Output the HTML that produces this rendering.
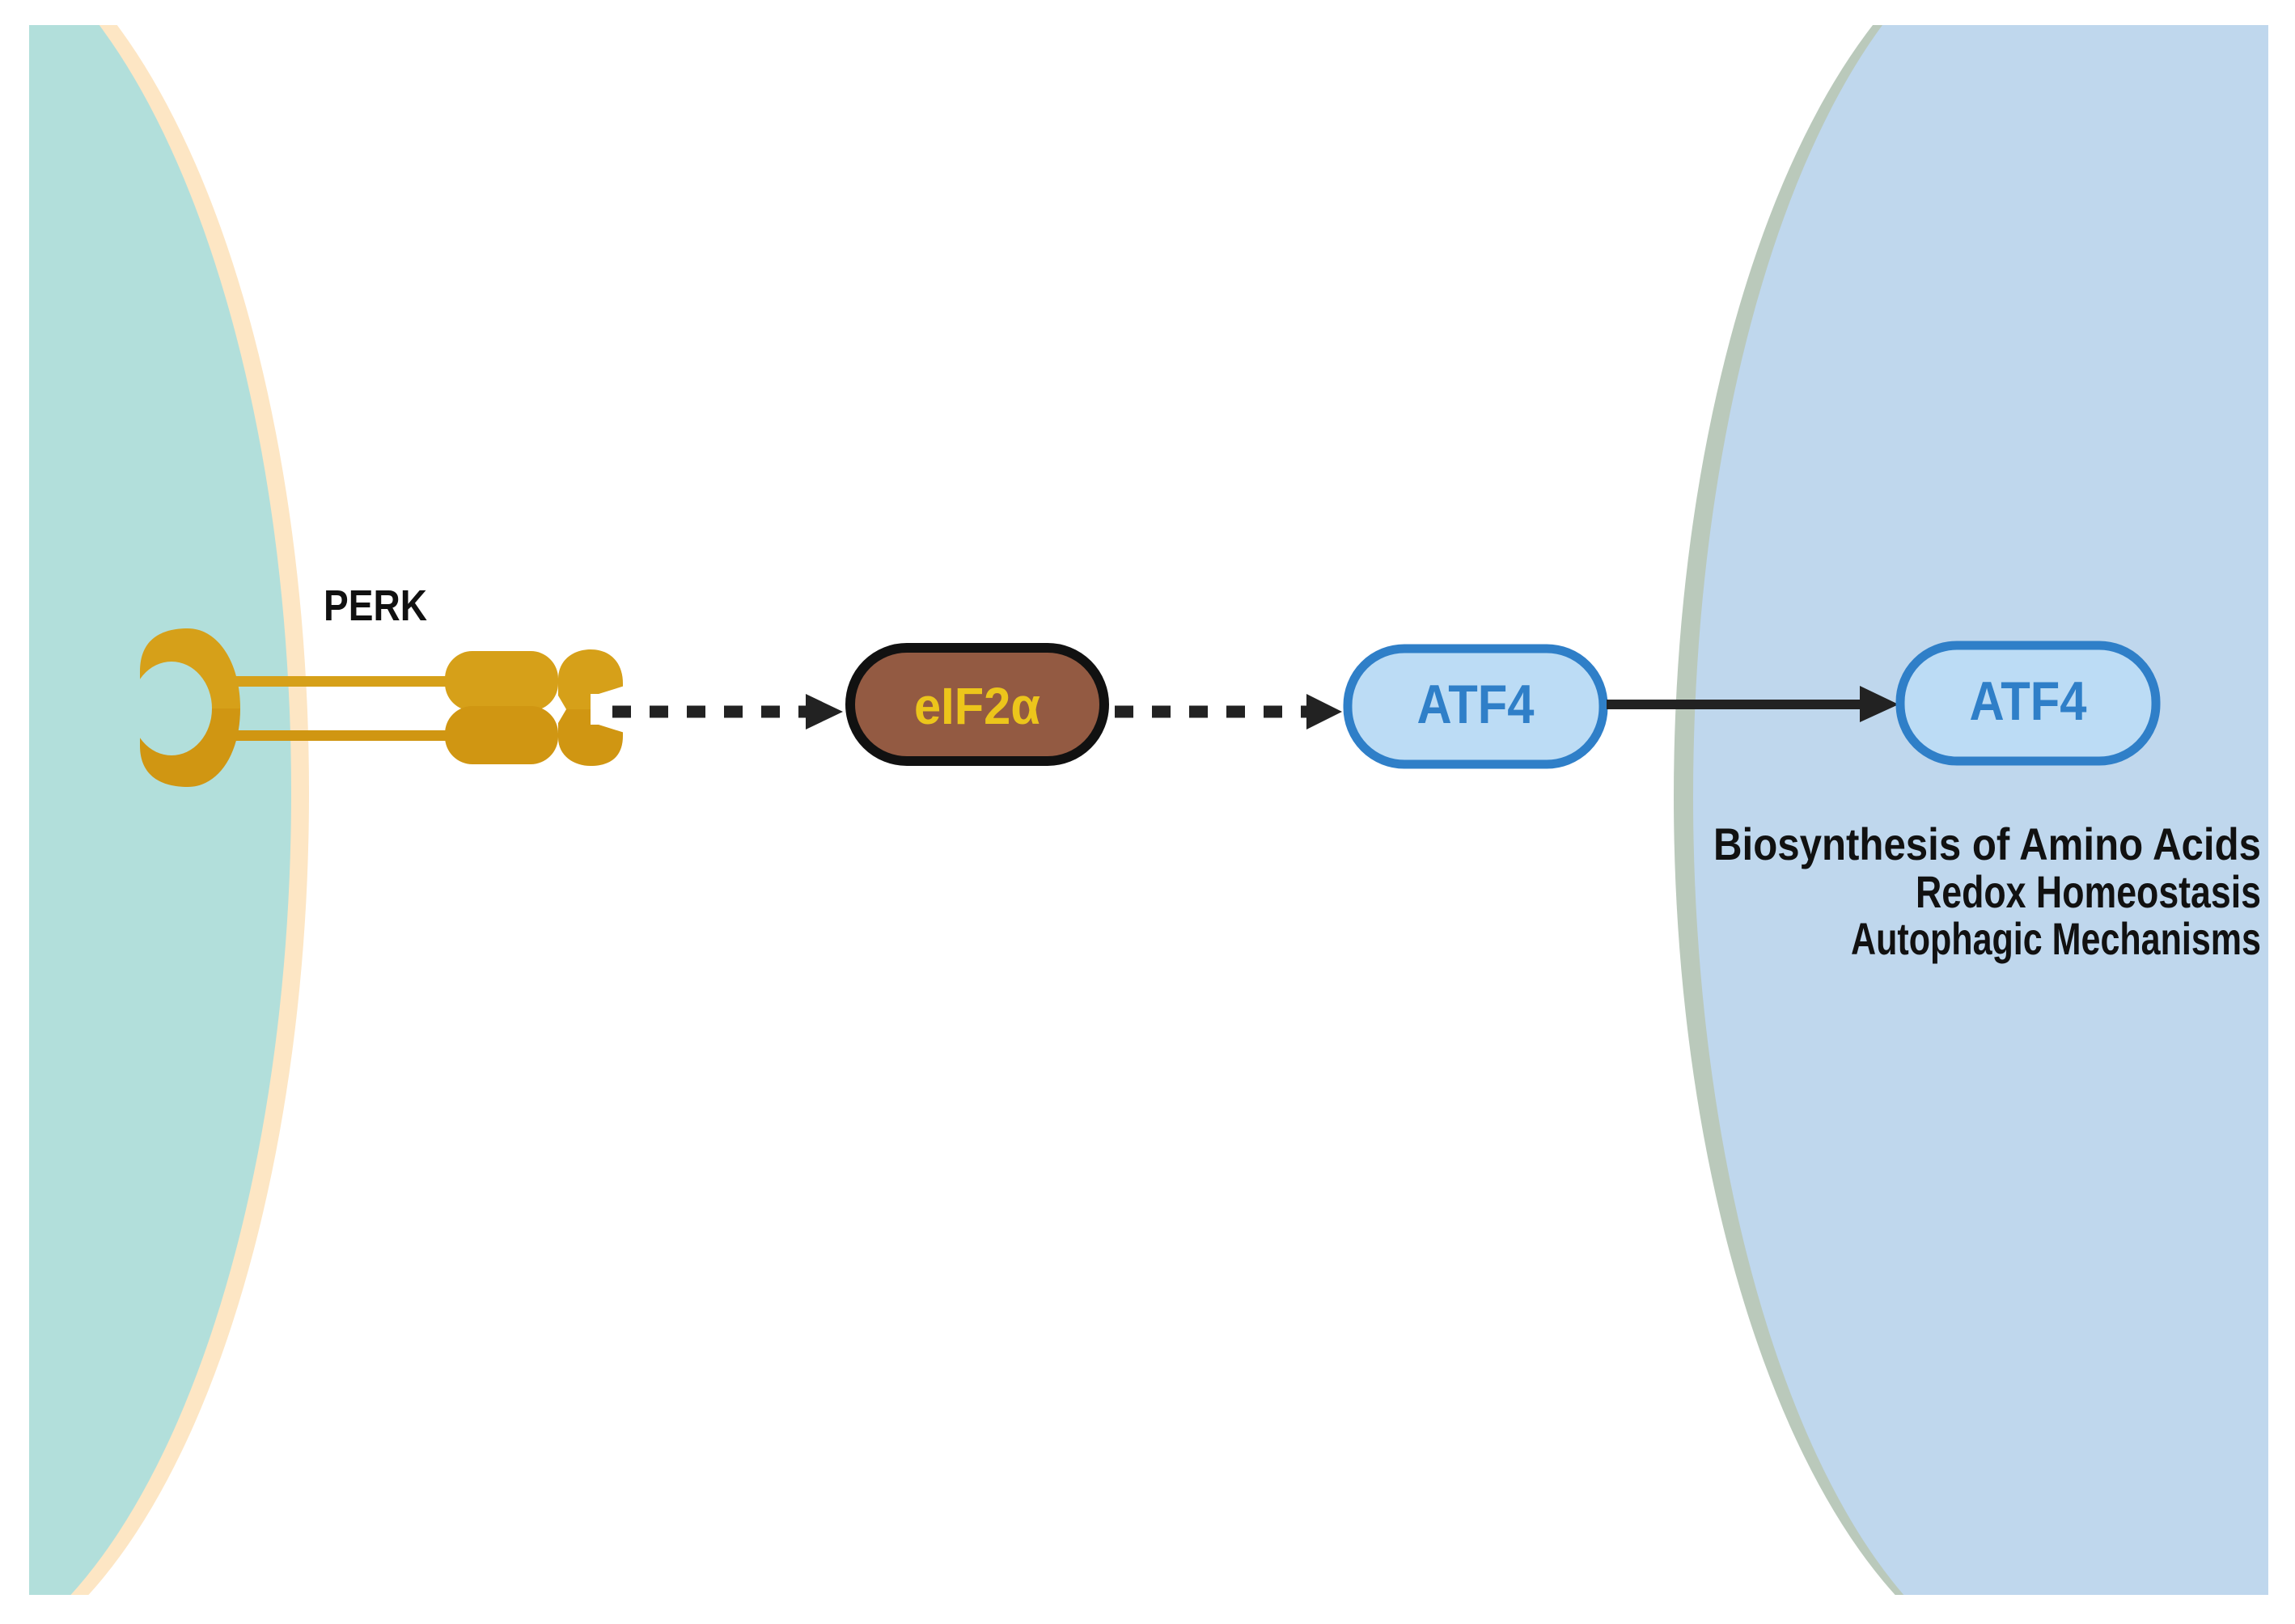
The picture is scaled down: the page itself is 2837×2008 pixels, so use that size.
<!DOCTYPE html>
<html><head><meta charset="utf-8"><style>
html,body{margin:0;padding:0;background:#fff;}
svg{display:block;}
text{font-family:"Liberation Sans",sans-serif;font-weight:bold;}
</style></head><body>
<svg width="2837" height="2008" viewBox="0 0 2837 2008" xmlns="http://www.w3.org/2000/svg">
<defs>
<clipPath id="fr"><rect x="36" y="31" width="2768" height="1941"/></clipPath>
<mask id="lc"><rect x="0" y="0" width="2837" height="2008" fill="#fff"/><ellipse cx="212" cy="876" rx="50" ry="58" fill="#000"/></mask>
<mask id="rc"><rect x="0" y="0" width="2837" height="2008" fill="#fff"/><path d="M772 848 L740 858 L730 858 L730 896 L740 896 L772 906 Z" fill="#000"/></mask>
</defs>
<g clip-path="url(#fr)">
<!-- left cell -->
<ellipse cx="-98" cy="980" rx="480" ry="1100" fill="#fde6c4"/>
<ellipse cx="-120" cy="980" rx="480" ry="1100" fill="#b2dfdb"/>
<!-- right cell -->
<ellipse cx="2559" cy="985" rx="490" ry="1100" fill="#bac9bb"/>
<ellipse cx="2559" cy="985" rx="466" ry="1100" fill="#bfd7ed"/>
<rect x="2559" y="0" width="300" height="2008" fill="#bfd7ed"/>
</g>
<!-- PERK receptor -->
<rect x="290" y="836" width="264" height="13" fill="#d6a019"/>
<rect x="290" y="903" width="264" height="13" fill="#d09612"/>
<g mask="url(#lc)">
<path d="M173 830 C173 790 200 777 232 777 C270 777 297 820 297 876 L173 876 Z" fill="#d6a019"/>
<path d="M173 876 L297 876 C297 932 270 973 232 973 C200 973 173 960 173 922 Z" fill="#d09612"/>
</g>
<rect x="550" y="805" width="140" height="74" rx="34" fill="#d6a019"/>
<rect x="550" y="873" width="140" height="72" rx="34" fill="#d09612"/>
<g mask="url(#rc)">
<path d="M690 840 C690 815 710 803 730 803 C755 803 770 820 770 845 L770 877 L690 877 Z" fill="#d6a019"/>
<path d="M690 877 L770 877 L770 910 C770 935 755 947 730 947 C710 947 690 935 690 912 Z" fill="#d09612"/>
</g>
<path d="M690 860 L700 877 L690 894 L680 877 Z" fill="#fff"/>
<text x="400" y="767" font-size="54" fill="#111" textLength="128" lengthAdjust="spacingAndGlyphs">PERK</text>
<!-- dashed arrows -->
<line x1="757" y1="880" x2="1010" y2="880" stroke="#222" stroke-width="15" stroke-dasharray="23 23"/>
<path d="M996 858 L1042 880 L996 902 Z" fill="#222"/>
<line x1="1378" y1="880" x2="1620" y2="880" stroke="#222" stroke-width="15" stroke-dasharray="23 23"/>
<path d="M1615 858 L1659 880 L1615 902 Z" fill="#222"/>
<!-- eIF2a -->
<rect x="1051" y="801" width="314" height="140" rx="70" fill="#935a42" stroke="#111" stroke-width="12"/>
<text x="1208" y="895" font-size="64" fill="#ecc51b" text-anchor="middle" textLength="156" lengthAdjust="spacingAndGlyphs">eIF2α</text>
<!-- ATF4 1 -->
<rect x="1666" y="802" width="316" height="143" rx="70" fill="#bcdcf5" stroke="#2f7fc8" stroke-width="11"/>
<text x="1824" y="894" font-size="68" fill="#2f7fc8" text-anchor="middle" textLength="145" lengthAdjust="spacingAndGlyphs">ATF4</text>
<!-- solid arrow -->
<line x1="1986" y1="871" x2="2305" y2="871" stroke="#222" stroke-width="12"/>
<path d="M2299 848 L2347 871 L2299 893 Z" fill="#222"/>
<!-- ATF4 2 -->
<rect x="2349" y="798" width="316" height="143" rx="70" fill="#bcdcf5" stroke="#2f7fc8" stroke-width="11"/>
<text x="2507" y="890" font-size="68" fill="#2f7fc8" text-anchor="middle" textLength="145" lengthAdjust="spacingAndGlyphs">ATF4</text>
<!-- outcomes -->
<text x="2118" y="1063" font-size="56" fill="#111" textLength="677" lengthAdjust="spacingAndGlyphs">Biosynthesis of Amino Acids</text>
<text x="2368" y="1122" font-size="56" fill="#111" textLength="427" lengthAdjust="spacingAndGlyphs">Redox Homeostasis</text>
<text x="2288" y="1180" font-size="56" fill="#111" textLength="507" lengthAdjust="spacingAndGlyphs">Autophagic Mechanisms</text>
</svg>
</body></html>
